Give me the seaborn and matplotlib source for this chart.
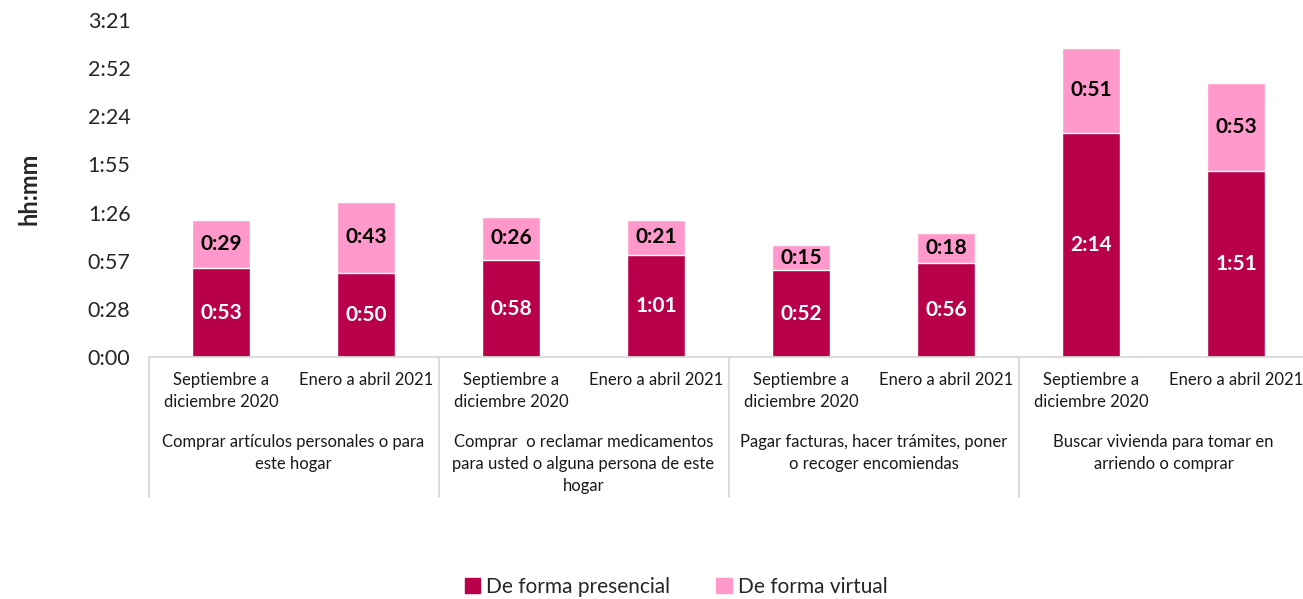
import numpy as np
import pandas as pd
import matplotlib
matplotlib.use("Agg")
import matplotlib.pyplot as plt
import matplotlib.transforms as mtransforms
from matplotlib.patches import Patch
from matplotlib.ticker import FuncFormatter
import seaborn as sns

# Datos (minutos)
categorias = ["Comprar artículos personales o para\neste hogar",
              "Comprar  o reclamar medicamentos\npara usted o alguna persona de este\nhogar",
              "Pagar facturas, hacer trámites, poner\no recoger encomiendas",
              "Buscar vivienda para tomar en\narriendo o comprar"]
periodos = ["Septiembre a\ndiciembre 2020", "Enero a abril 2021"]
presencial = [53, 50, 58, 61, 52, 56, 134, 111]
virtual = [29, 43, 26, 21, 15, 18, 51, 53]
series = ["De forma presencial", "De forma virtual"]

vino = "#B8004B"
rosa = "#FF99CC"

df = pd.DataFrame({
    "barra": [str(i) for i in range(len(presencial))],
    "periodo": periodos * len(categorias),
    "categoria": np.repeat(categorias, len(periodos)),
    "presencial": presencial,
    "virtual": virtual,
})
df["total"] = df["presencial"] + df["virtual"]

sns.set_style("white")
plt.rcParams["font.family"] = ["Lato", "DejaVu Sans"]

fig = plt.figure(figsize=(13.03, 5.99), dpi=100)
ax = fig.add_axes([148.5 / 1303, 242 / 599, 1160 / 1303, 337 / 599])

sns.barplot(data=df, x="barra", y="total", color=rosa, width=0.4,
            saturation=1, errorbar=None, ax=ax)
sns.barplot(data=df, x="barra", y="presencial", color=vino, width=0.4,
            saturation=1, errorbar=None, ax=ax)


def hhmm(v, pos=None):
    m = int(v + 1e-6)
    return f"{m // 60}:{m % 60:02d}"


ax.set_ylim(0, 28.8 * 7)
ax.set_yticks(np.arange(8) * 28.8)
ax.yaxis.set_major_formatter(FuncFormatter(hhmm))
ax.tick_params(axis="y", labelsize=15.5, length=0, pad=13)
ax.set_xlim(-0.5, len(presencial) - 0.5)
ax.set_xticks([])
ax.set_xlabel("")
ax.set_ylabel("hh:mm", fontsize=17, fontweight="bold")
ax.yaxis.set_label_coords(-108 / 1160, 0.5)

for s in ["top", "right", "left"]:
    ax.spines[s].set_visible(False)
ax.spines["bottom"].set_color("#D9D9D9")
ax.spines["bottom"].set_linewidth(1.3)

# etiquetas de valores
for i, (p, v) in enumerate(zip(presencial, virtual)):
    ax.text(i, p / 2, hhmm(p), ha="center", va="center", color="white",
            fontsize=15, fontweight="bold")
    ax.text(i, p + v / 2, hhmm(v), ha="center", va="center", color="black",
            fontsize=15, fontweight="bold")

# eje x en dos niveles
trans = mtransforms.blended_transform_factory(ax.transData, ax.transAxes)
h_ax = 337
for i, per in enumerate(df["periodo"]):
    ax.text(i, -(372 - 357) / h_ax, per, transform=trans, ha="center", va="top",
            fontsize=12, linespacing=1.45, color="#1a1a1a")
for j, cat in enumerate(categorias):
    ax.text(2 * j + 0.5, -(434 - 357) / h_ax, cat, transform=trans, ha="center", va="top",
            fontsize=12, linespacing=1.45, color="#1a1a1a")
for b in np.arange(len(categorias) + 1) * 2 - 0.5:
    ax.plot([b, b], [0, -(497 - 357) / h_ax], transform=trans, color="#D9D9D9",
            lw=1.3, clip_on=False)

handles = [Patch(color=vino), Patch(color=rosa)]
fig.legend(handles, series, loc="center", bbox_to_anchor=(0.519, 0.02), ncol=2,
           frameon=False, fontsize=15, handlelength=0.75, handleheight=0.75,
           handletextpad=0.3, columnspacing=2.2)

fig.savefig("out.png", dpi=100)
